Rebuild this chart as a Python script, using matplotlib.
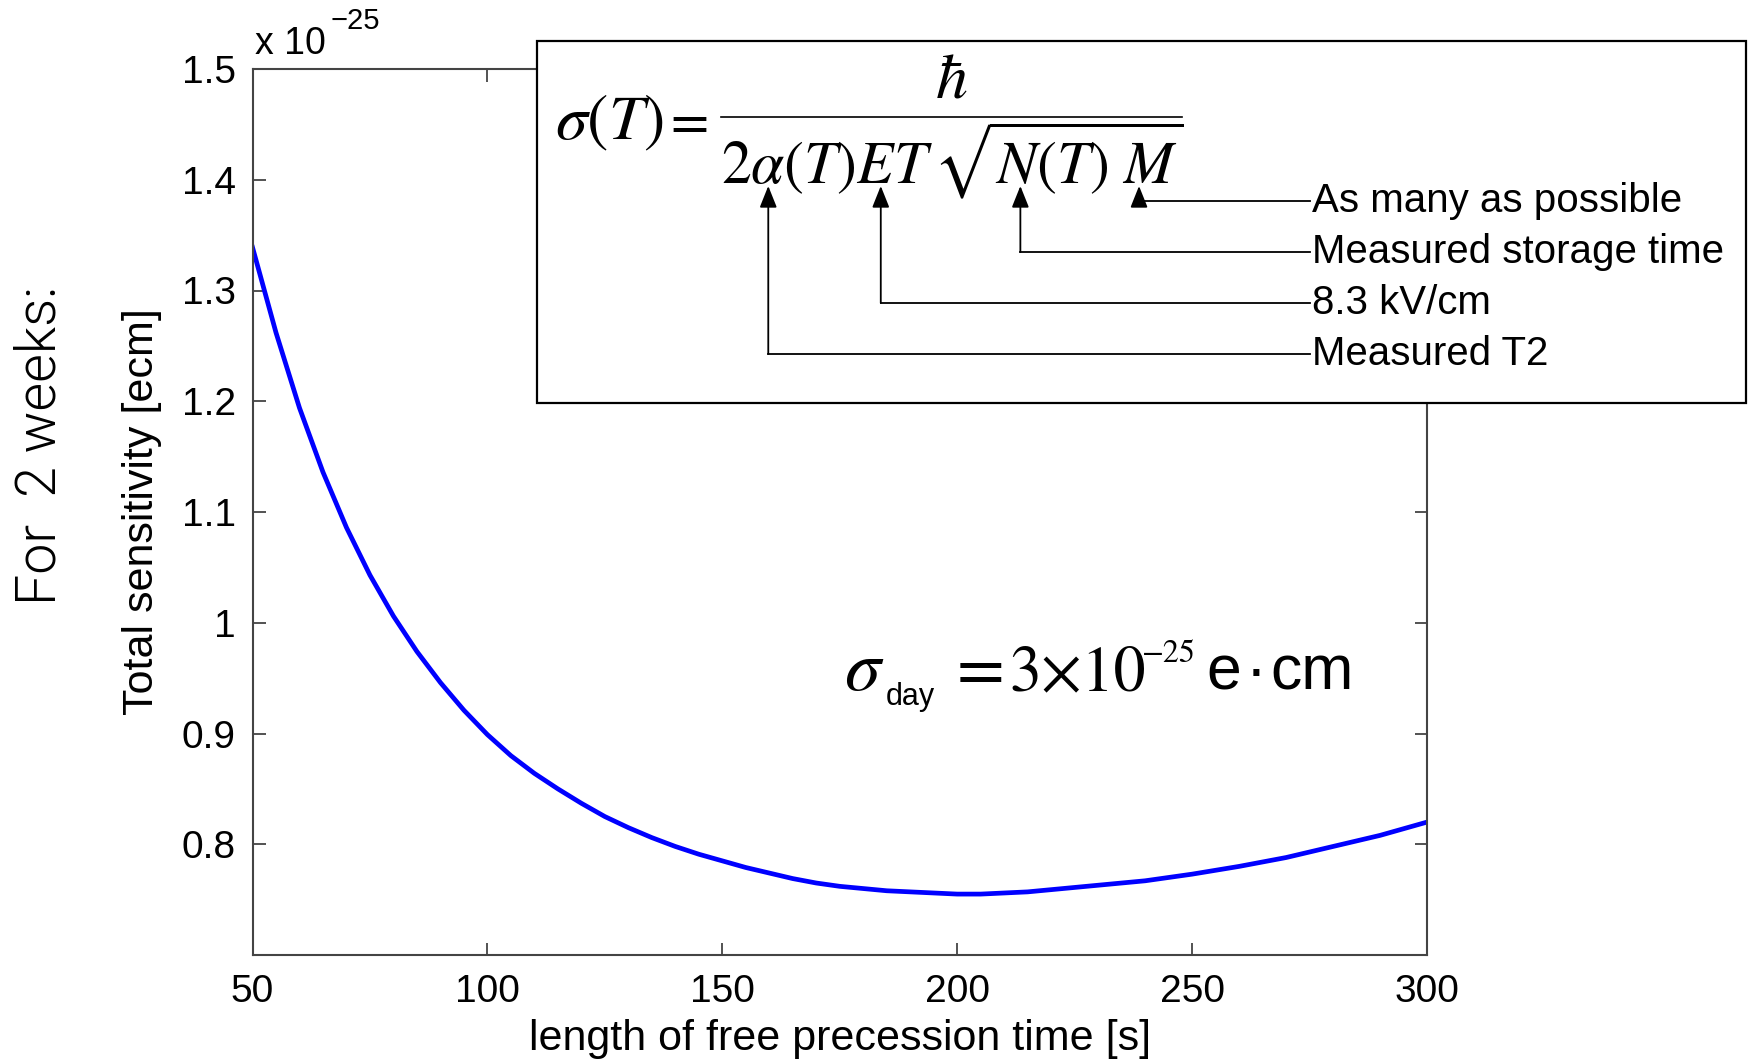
import matplotlib.pyplot as plt
from matplotlib.patches import Rectangle

plt.rcParams['font.family'] = ['Liberation Sans', 'DejaVu Sans']
plt.rcParams['mathtext.fontset'] = 'stix'

# free precession time [s] and total sensitivity [x 1e-25 e cm]
t_free = [50, 55, 60, 65, 70, 75, 80, 85, 90, 95, 100, 105, 110, 115, 120, 125,
          130, 135, 140, 145, 150, 155, 160, 165, 170, 175, 180, 185, 190, 195,
          200, 205, 210, 215, 220, 230, 240, 250, 260, 270, 280, 290, 300]
sensitivity = [1.339, 1.262, 1.194, 1.136, 1.086, 1.043, 1.006, 0.974, 0.946, 0.921,
               0.899, 0.880, 0.864, 0.850, 0.837, 0.825, 0.815, 0.806, 0.798, 0.791,
               0.785, 0.779, 0.774, 0.769, 0.765, 0.762, 0.760, 0.758, 0.757, 0.756,
               0.755, 0.755, 0.756, 0.757, 0.759, 0.763, 0.767, 0.773, 0.780, 0.788,
               0.798, 0.808, 0.820]

x_ticks = [50, 100, 150, 200, 250, 300]
y_ticks = [0.8, 0.9, 1.0, 1.1, 1.2, 1.3, 1.4, 1.5]
y_ticklabels = ['0.8', '0.9', '1', '1.1', '1.2', '1.3', '1.4', '1.5']

# what each factor of the formula is
notes = ['As many as possible', 'Measured storage time', '8.3 kV/cm', 'Measured T2']

W, H = 1752, 1059
fig = plt.figure(figsize=(W / 100, H / 100), dpi=100)
fig.patch.set_facecolor('white')

# main plot
ax = fig.add_axes([252.5 / W, 1 - 955 / H, (1427 - 252.5) / W, (955 - 69) / H])
ax.plot(t_free, sensitivity, color='#0000ff', lw=3.4)
ax.set_xlim(50, 300)
ax.set_ylim(0.7, 1.5)
ax.set_xticks(x_ticks)
ax.set_yticks(y_ticks)
ax.set_yticklabels(y_ticklabels)
ax.tick_params(direction='in', top=True, right=True, length=9, width=1.3,
               color='#444444', labelcolor='black', labelsize=28)
ax.tick_params(axis='x', pad=14)
ax.tick_params(axis='y', pad=12)
for sp in ax.spines.values():
    sp.set_color('#444444')
    sp.set_linewidth(1.5)
ax.set_xlabel('length of free precession time [s]', fontsize=31, labelpad=6)
ax.set_ylabel('Total sensitivity [ecm]', fontsize=31, labelpad=14)

# overlay in pixel coordinates for the annotations
ov = fig.add_axes([0, 0, 1, 1])
ov.set_xlim(0, W)
ov.set_ylim(H, 0)
ov.axis('off')

# multiplier above the y axis
ov.text(255, 54, 'x 10', fontsize=27, va='baseline', ha='left')
ov.text(331, 29, '\u221225', fontsize=21, va='baseline', ha='left')

ov.text(40, 446, 'For  2 weeks:', fontsize=40, rotation=90, ha='center', va='center',
        family=['Roboto', 'DejaVu Sans'], fontweight=300, color='black')

# sigma_day
serif = ['STIXGeneral', 'DejaVu Serif']
ov.text(844, 690, r'$\sigma$', fontsize=52, va='baseline', ha='left')
ov.text(886, 705, 'day', fontsize=22, va='baseline', ha='left')
ov.text(957, 690, '=', fontsize=50, va='baseline', ha='left', family=serif)
ov.text(1009, 690, '3\u00d710', fontsize=46, va='baseline', ha='left', family=serif)
ov.text(1142, 662, '\u221225', fontsize=23, va='baseline', ha='left', family=serif)
ov.text(1206, 690, 'e', fontsize=45, va='baseline', ha='left')
ov.text(1246, 690, '\u00b7', fontsize=45, va='baseline', ha='left')
ov.text(1270, 690, 'cm', fontsize=45, va='baseline', ha='left')

# formula box
ov.add_patch(Rectangle((537, 41), 1746 - 537, 403 - 41, facecolor='white',
                       edgecolor='black', lw=1.6))
fsize = 43
ov.text(555, 139, r'$\sigma(T)$', fontsize=46, va='baseline', ha='left')
ov.text(670, 139, '=', fontsize=40, va='baseline', ha='left', family=serif)
ov.text(951, 98, r'$\hbar$', fontsize=46, va='baseline', ha='center')
ov.plot([721, 1182], [117, 117], color='black', lw=1.2)
den = r'$2\alpha(T)ET\,\sqrt{N(T)\ M}$'
den_x = 721
ov.text(den_x, 183, den, fontsize=fsize, va='baseline', ha='left')

renderer = fig.canvas.get_renderer()


def width(s):
    t = ov.text(0, 0, s, fontsize=fsize)
    w = t.get_window_extent(renderer).width
    t.remove()
    return w


w_m = width(r'$M$')
arrow_x = [
    den_x + width(den) - 0.8 * w_m,
    den_x + width(r'$2\alpha(T)ET\,\sqrt{N}$') - 0.55 * width(r'$N$'),
    den_x + width(r'$2\alpha(T)E$') - 0.4 * width(r'$E$'),
    den_x + width(r'$2\alpha$') - 0.5 * width(r'$\alpha$'),
]
line_y = [201, 252, 303, 354]
tip_y = 186
for x, y, note in zip(arrow_x, line_y, notes):
    ov.annotate('', xy=(x, tip_y), xytext=(x, y),
                arrowprops=dict(arrowstyle='-|>,head_length=0.55,head_width=0.22',
                                color='black', lw=1.3, mutation_scale=24,
                                shrinkA=0, shrinkB=0))
    ov.plot([x, 1310], [y, y], color='black', lw=1.3)
    ov.text(1312, y, note, fontsize=29, va='center', ha='left')

fig.savefig('out.png', dpi=100, facecolor='white')
